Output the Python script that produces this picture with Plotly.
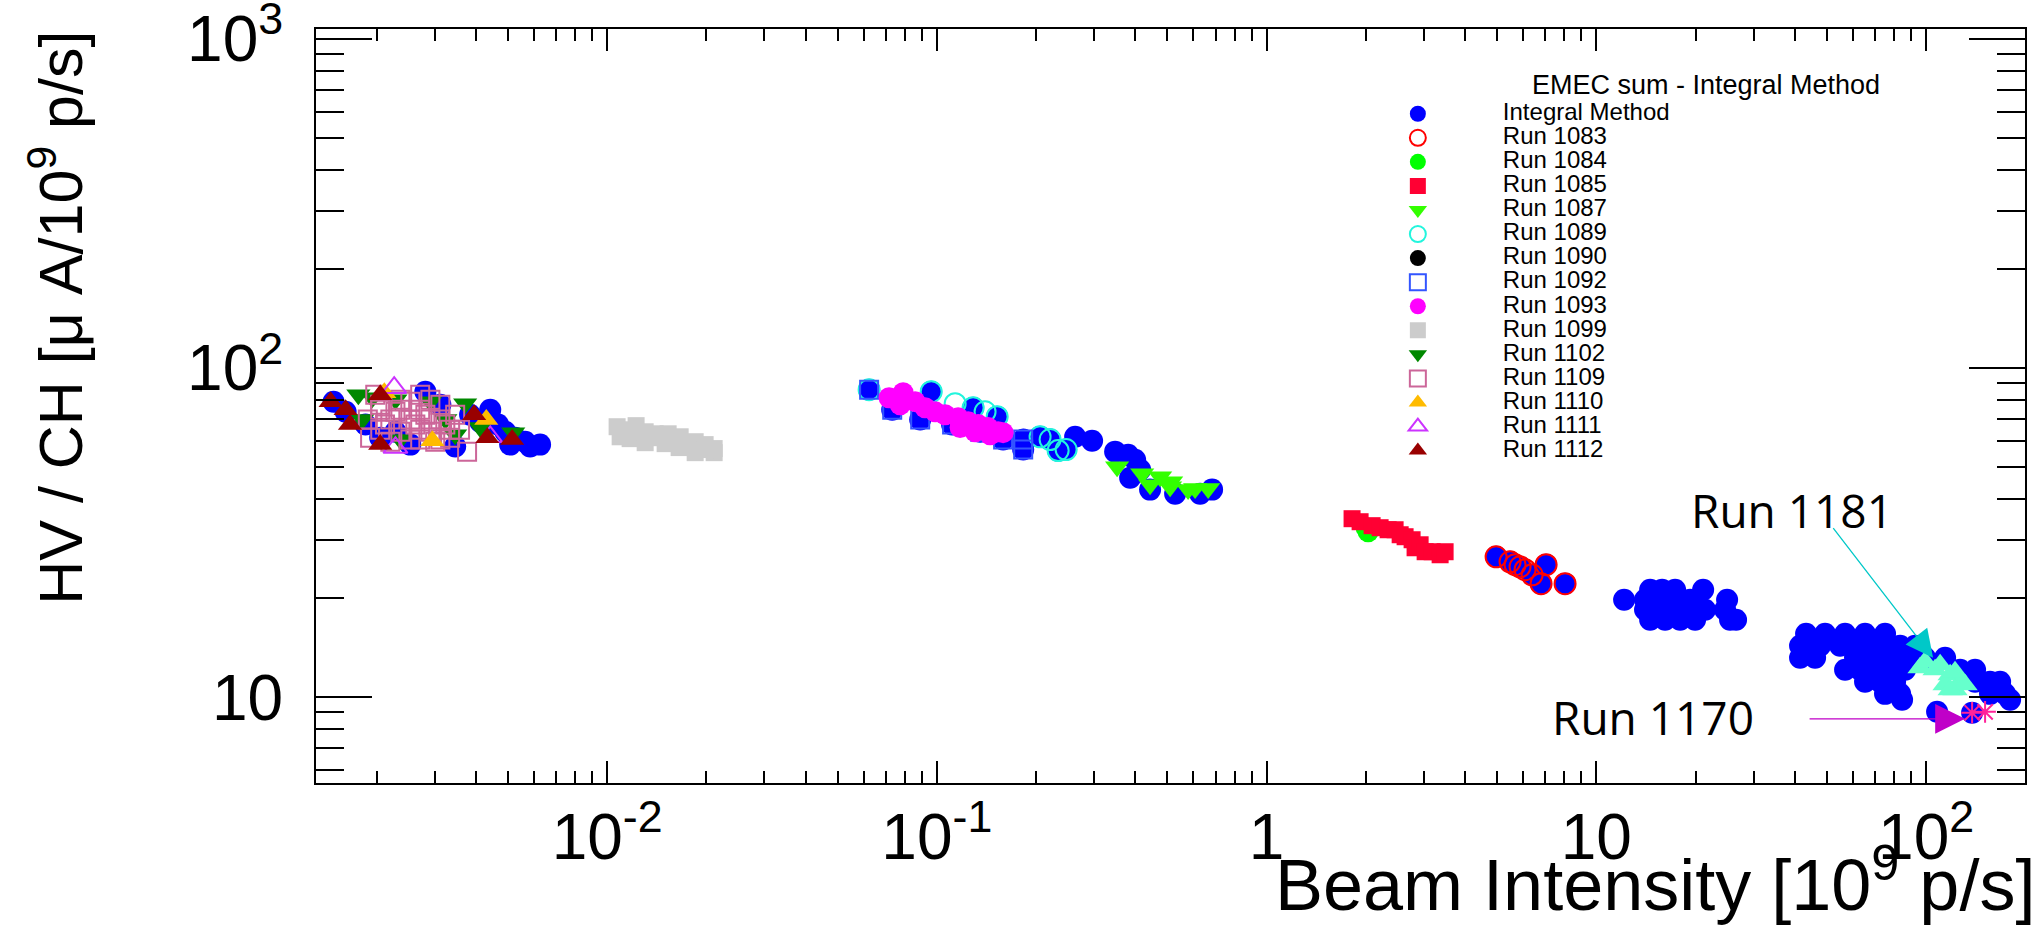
import math
import plotly.graph_objects as go

# ---------------- data ----------------
integral_x = [0.00148, 0.00161, 0.00185, 0.00228, 0.00253, 0.00281, 0.00312, 0.00346, 0.00384, 0.00427,
              0.00467, 0.00491, 0.00526, 0.00564, 0.00626, 0.00584, 0.00508, 0.00205, 0.00442, 0.00412,
              0.0623, 0.0732, 0.0890, 0.0961, 0.1112, 0.1288, 0.1353, 0.1523, 0.1588, 0.1827, 0.1827, 0.1827,
              0.2056, 0.2205, 0.2332, 0.2466, 0.2626, 0.2956, 0.3472, 0.3992, 0.3802, 0.3856, 0.4135, 0.4432,
              0.5279, 0.6285, 0.6834,
              4.966, 5.474, 5.870, 6.386, 7.040, 6.797, 8.037,
              14.56, 15.83, 17.33, 21.08,
              12.14, 14.05, 15.61, 17.33, 19.25, 24.92,
              14.05, 15.61, 17.33, 19.25, 21.37, 24.57,
              14.56, 16.16, 17.95, 19.93, 25.44, 26.53,
              43.26, 49.40, 56.80, 65.31, 75.08,
              41.48, 47.70, 54.85, 63.07, 72.50, 83.41, 92.61,
              41.48, 46.07, 60.90, 67.63, 77.76, 89.44, 99.32, 114.2,
              56.80, 63.07, 70.01, 77.76, 86.37, 126.8, 140.8,
              65.31, 72.50, 80.54, 140.8, 156.3, 167.7,
              75.08, 83.41, 156.3, 173.6,
              84.57, 179.8, 108.0, 137.9]
integral_y = [79.0, 73.6, 67.3, 64.0, 58.5, 84.7, 77.3, 57.7, 72.1, 69.7,
              67.3, 64.0, 61.4, 59.7, 58.5, 57.7, 58.5, 61.4, 74.7, 68.7,
              85.9, 74.7, 69.7, 84.7, 67.3, 75.7, 64.0, 71.1, 60.6, 58.5, 60.6, 56.5,
              61.8, 60.6, 56.1, 56.5, 61.8, 60.1, 55.7, 52.6, 54.5, 46.4, 49.1, 42.7,
              41.5, 41.5, 42.7,
              26.69, 25.77, 24.89, 23.53, 25.25, 22.11, 22.11,
              21.19, 21.19, 21.19, 21.19,
              19.75, 19.75, 19.75, 19.75, 19.75, 19.75,
              18.42, 18.42, 18.42, 18.42, 18.42, 18.42,
              17.18, 17.18, 17.18, 17.18, 17.18, 17.18,
              15.57, 15.57, 15.57, 15.57, 15.57,
              14.32, 14.32, 14.32, 14.32, 14.32, 14.32, 14.32,
              13.17, 13.17, 13.17, 13.17, 13.17, 13.17, 13.17, 13.17,
              12.11, 12.11, 12.11, 12.11, 12.11, 12.11, 12.11,
              11.13, 11.13, 11.13, 11.13, 11.13, 11.13,
              10.23, 10.23, 10.23, 10.23,
              9.81, 9.81, 9.02, 8.96]

run1083_x = [4.966, 5.474, 5.870, 6.386, 7.040, 6.797, 8.037, 5.669, 6.078]
run1083_y = [26.69, 25.77, 24.89, 23.53, 25.25, 22.11, 22.11, 25.25, 24.38]

run1084_x = [2.003, 2.032]
run1084_y = [32.71, 31.80]

run1085_x = [1.816, 1.921, 2.089, 2.209, 2.336, 2.453, 2.541, 2.630, 2.762, 2.820, 2.921, 3.025, 3.177,
             3.359, 3.478]
run1085_y = [34.84, 34.11, 33.18, 32.71, 32.25, 32.25, 31.14, 30.71, 30.07, 28.43, 29.03, 27.65, 27.65,
             27.07, 27.65]

run1087_x = [0.3520, 0.4194, 0.4753, 0.5134, 0.6069, 0.6648, 0.4432, 0.5097, 0.5780]
run1087_y = [50.1, 47.7, 46.7, 45.1, 43.0, 43.0, 44.2, 43.6, 42.7]

run1089_x = [0.0623, 0.0961, 0.1136, 0.1288, 0.1400, 0.1523, 0.2056, 0.2205, 0.2332, 0.2466]
run1089_y = [85.9, 84.7, 77.9, 75.7, 73.6, 71.1, 61.8, 60.6, 56.1, 56.5]

run1090_x = [None]   # no visible points in the reference, legend entry only
run1090_y = [None]

run1092_x = [0.0623, 0.0732, 0.0890, 0.1112, 0.1353, 0.1588, 0.1827, 0.1827]
run1092_y = [85.9, 74.7, 69.7, 67.3, 64.0, 60.6, 60.6, 56.5]

run1093_x = [0.0716, 0.0790, 0.0774, 0.0859, 0.0921, 0.0988, 0.1059, 0.1160, 0.1244, 0.1334,
             0.1430, 0.1533, 0.1588, 0.1176, 0.1306, 0.1450]
run1093_y = [81.2, 84.1, 77.3, 79.0, 75.7, 73.6, 72.1, 70.6, 68.7, 67.3,
             65.9, 64.0, 63.6, 65.9, 64.0, 62.7]

run1099_x = [0.01072, 0.01224, 0.01174, 0.01304, 0.01398, 0.01499, 0.01531, 0.01653, 0.01665,
             0.01849, 0.01849, 0.02111, 0.02111,
             0.01134, 0.01304, 0.01448, 0.01608, 0.01761, 0.01982, 0.01982, 0.01095]
run1099_y = [66.3, 66.8, 61.0, 59.3, 63.1, 58.9, 63.1, 57.3, 61.8, 59.7, 55.3, 56.9, 55.3,
             64.9, 64.0, 61.4, 59.7, 57.7, 56.5, 58.5, 61.8]

run1102_x = [0.00176, 0.00194, 0.00291, 0.00371, 0.00412, 0.00519, 0.00323, 0.00346, 0.00236, 0.00181, 0.00228]
run1102_y = [82.9, 81.2, 79.0, 77.9, 65.9, 63.6, 69.7, 62.7, 60.6, 69.7, 80.1]

run1109_x = [0.00198, 0.00228, 0.00253, 0.00281, 0.00312, 0.00212, 0.00236, 0.00262, 0.00291, 0.00323,
             0.00346, 0.00191, 0.00220, 0.00253, 0.00301, 0.00334, 0.00376, 0.00271, 0.00188, 0.00205,
             0.00205, 0.00220, 0.00236, 0.00253, 0.00271, 0.00291, 0.00312, 0.00334, 0.00271, 0.00205,
             0.00236, 0.00291, 0.00312, 0.00358, 0.00271]
run1109_y = [82.9, 73.6, 79.0, 72.1, 77.3, 67.3, 64.0, 67.3, 64.0, 67.3,
             72.1, 61.4, 59.7, 60.6, 59.7, 61.4, 55.7, 82.9, 69.7, 77.3,
             74.7, 69.7, 74.7, 69.7, 74.7, 69.7, 69.7, 64.9, 64.9, 64.9,
             80.1, 80.1, 60.6, 64.9, 60.6]

run1110_x = [0.00211, 0.00430, 0.00295]
run1110_y = [84.1, 69.7, 60.1]

run1111_x = [0.00226, 0.00228, 0.00442]
run1111_y = [87.1, 57.3, 61.8]

run1112_x = [0.00145, 0.00161, 0.00166, 0.00433, 0.00515, 0.00395, 0.00205, 0.00205]
run1112_y = [79.0, 74.7, 67.3, 61.4, 60.6, 72.1, 82.9, 58.5]

run1181_x = [95.9, 106.5, 118.3, 126.8, 114.2, 122.4, 99.32, 110.3, 122.4, 131.3, 118.3]
run1181_y = [12.28, 12.11, 11.69, 11.13, 10.90, 10.52, 12.80, 12.53, 11.94, 10.90, 10.52]

run1170_x = [137.9, 151.0]
run1170_y = [8.96, 9.02]

# annotation anchors (data units)
label1181_pos = (39.25, 37.10)
arrow1181_tail = (51.87, 32.94)
arrow1181_head = (105.0, 13.17)
label1170_pos = (14.86, 8.71)
arrow1170_tail = (43.87, 8.59)
arrow1170_head = (131.3, 8.59)

x_tickvals = [0.01, 0.1, 1, 10, 100]
x_ticktext = ["10<sup>-2</sup>", "10<sup>-1</sup>", "1", "10", "10<sup>2</sup>"]
y_tickvals = [10, 100, 1000]
y_ticktext = ["10", "10<sup>2</sup>", "10<sup>3</sup>"]

# ---------------- figure ----------------
FONT = "Liberation Sans, Arial, Helvetica, sans-serif"
fig = go.Figure()

series = [
    ("Integral Method", integral_x, integral_y, "circle", "#0000ff", 22),
    ("Run 1083", run1083_x, run1083_y, "circle-open", "#ff0000", 21),
    ("Run 1084", run1084_x, run1084_y, "circle", "#00ff00", 21),
    ("Run 1085", run1085_x, run1085_y, "square", "#ff0033", 17),
    ("Run 1087", run1087_x, run1087_y, "triangle-down", "#33ff00", 21),
    ("Run 1089", run1089_x, run1089_y, "circle-open", "#22f5dd", 21),
    ("Run 1090", run1090_x, run1090_y, "circle", "#000000", 21),
    ("Run 1092", run1092_x, run1092_y, "square-open", "#3355ff", 18),
    ("Run 1093", run1093_x, run1093_y, "circle", "#ff00ff", 21),
    ("Run 1099", run1099_x, run1099_y, "square", "#cccccc", 17),
    ("Run 1102", run1102_x, run1102_y, "triangle-down", "#008800", 21),
    ("Run 1109", run1109_x, run1109_y, "square-open", "#cc6699", 18),
    ("Run 1110", run1110_x, run1110_y, "triangle-up", "#ffbb00", 21),
    ("Run 1111", run1111_x, run1111_y, "triangle-up-open", "#cc33ff", 21),
    ("Run 1112", run1112_x, run1112_y, "triangle-up", "#990000", 21),
]

for name, xs, ys, sym, col, size in series:
    is_open = sym.endswith("open")
    fig.add_trace(go.Scatter(
        x=xs, y=ys, mode="markers",
        name="<span style='font-size:24px'>" + name + "</span>",
        marker=dict(symbol=sym, size=size, color=col,
                    line=dict(width=2 if is_open else 0, color=col)),
        cliponaxis=True,
    ))

fig.add_trace(go.Scatter(x=run1181_x, y=run1181_y, mode="markers", showlegend=False,
                         marker=dict(symbol="triangle-up", size=22, color="#66ffcc", line=dict(width=0))))
fig.add_trace(go.Scatter(x=run1170_x, y=run1170_y, mode="markers", showlegend=False,
                         marker=dict(symbol="asterisk-open", size=18, color="#ff2299",
                                     line=dict(width=2, color="#ff2299"))))

lg = math.log10

def minor_vals(lo, hi):
    return [m * 10 ** e for e in range(lo, hi) for m in range(2, 10)]

axis_common = dict(
    type="log", showgrid=False, zeroline=False, automargin=False,
    showline=True, linecolor="black", linewidth=2, mirror="allticks",
    ticks="inside", tickcolor="black", tickwidth=1.6,
    tickmode="array", ticklabeloverflow="allow",
    tickfont=dict(family=FONT, size=64, color="black"),
)

fig.update_xaxes(**axis_common, range=[-2.883, 2.300],
                 tickvals=x_tickvals, ticktext=x_ticktext, ticklen=22,
                 ticklabelstandoff=-3,
                 minor=dict(tickmode="array", tickvals=minor_vals(-3, 3), ticks="inside",
                            ticklen=12, tickwidth=1.6, tickcolor="black"))
fig.update_yaxes(**axis_common, range=[0.739, 3.030],
                 tickvals=y_tickvals, ticktext=y_ticktext, ticklen=56,
                 ticklabelstandoff=18,
                 minor=dict(tickmode="array", tickvals=minor_vals(0, 3), ticks="inside",
                            ticklen=28, tickwidth=1.6, tickcolor="black"))

annotations = [
    dict(text="EMEC sum - Integral Method", xref="paper", yref="paper", x=0.7104, y=0.9261,
         xanchor="left", yanchor="middle", showarrow=False,
         font=dict(family=FONT, size=27, color="black")),
    dict(text="HV / CH [\u03bc A/10<sup>9</sup> p/s]", xref="paper", yref="paper",
         x=-0.1521, y=0.6171, xanchor="center", yanchor="middle", textangle=-90, showarrow=False,
         font=dict(family=FONT, size=61, color="black")),
    dict(text="Beam Intensity [10<sup>9</sup> p/s]", xref="paper", yref="paper",
         x=1.007, y=-0.1283, xanchor="right", yanchor="middle", showarrow=False,
         font=dict(family=FONT, size=72, color="black")),
    dict(text="Run 1181", x=lg(label1181_pos[0]), y=lg(label1181_pos[1]), xref="x", yref="y",
         showarrow=False, xanchor="center", yanchor="middle",
         font=dict(family="Open Sans, Noto Sans, sans-serif", size=46, color="black")),
    dict(text="Run 1170", x=lg(label1170_pos[0]), y=lg(label1170_pos[1]), xref="x", yref="y",
         showarrow=False, xanchor="center", yanchor="middle",
         font=dict(family="Open Sans, Noto Sans, sans-serif", size=46, color="black")),
    dict(text="", x=lg(arrow1181_head[0]), y=lg(arrow1181_head[1]), xref="x", yref="y",
         ax=lg(arrow1181_tail[0]), ay=lg(arrow1181_tail[1]), axref="x", ayref="y",
         showarrow=True, arrowhead=2, arrowsize=4.2, arrowwidth=1.3, arrowcolor="#00c8c8"),
    dict(text="", x=lg(arrow1170_head[0]), y=lg(arrow1170_head[1]), xref="x", yref="y",
         ax=lg(arrow1170_tail[0]), ay=lg(arrow1170_tail[1]), axref="x", ayref="y",
         showarrow=True, arrowhead=2, arrowsize=4.6, arrowwidth=1.3, arrowcolor="#c000c8"),
]

fig.update_layout(
    width=2039, height=926, autosize=False,
    margin=dict(l=316, r=14, t=29, b=143, pad=0, autoexpand=False),
    paper_bgcolor="white", plot_bgcolor="white",
    font=dict(family=FONT, color="black"),
    annotations=annotations,
    legend=dict(x=0.595, y=0.9102, xanchor="left", yanchor="top",
                bgcolor="rgba(0,0,0,0)", borderwidth=0,
                font=dict(family=FONT, size=16.2, color="black"),
                itemwidth=160, itemsizing="trace", tracegroupgap=0),
)

fig.write_html("out.html", config={"displayModeBar": False},
               post_script="document.body.style.margin='0';document.body.style.overflow='hidden';")
